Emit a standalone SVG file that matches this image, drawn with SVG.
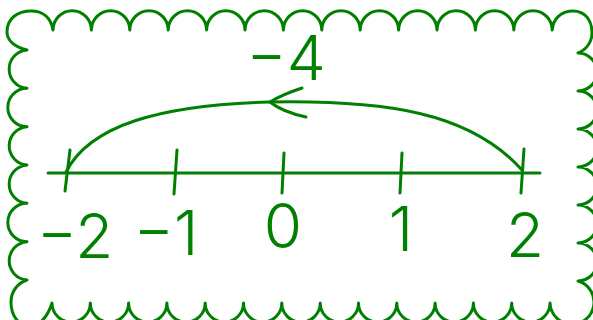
<svg xmlns="http://www.w3.org/2000/svg" width="593" height="320" viewBox="0 0 593 320">
<style>
.ink{fill:none;stroke:#008000;stroke-width:3;stroke-linecap:round;stroke-linejoin:round}
.lbl{fill:#008000;font-family:Inter,"Noto Sans","DejaVu Sans",sans-serif;font-weight:300;font-size:62px;text-anchor:middle}
</style>
<rect width="593" height="320" fill="#ffffff"/>
<g id="border">
<path class="ink" d="M27,50 C14,47 7,40 7,32 C7,18 18,11 31,11 C43,11 51,18 53,30
A19.2 19.2 0 0 1 91.4,30 A19.2 19.2 0 0 1 129.8,30 A19.2 19.2 0 0 1 168.2,30 A19.2 19.2 0 0 1 206.6,30 A19.2 19.2 0 0 1 245,30 A19.2 19.2 0 0 1 283.4,30 A19.2 19.2 0 0 1 321.8,30 A19.2 19.2 0 0 1 360.2,30 A19.2 19.2 0 0 1 398.6,30 A19.2 19.2 0 0 1 437,30 A19.2 19.2 0 0 1 475.4,30 A19.2 19.2 0 0 1 513.8,30 A19.2 19.2 0 0 1 552.2,30
C553,19 561,11 573,11 C585,11 592,20 592,33 C592,42 586,50 578,53
A19 19 0 0 1 578,91 A19 19 0 0 1 578,129 A19 19 0 0 1 578,167 A19 19 0 0 1 578,205 A19 19 0 0 1 578,243 A19 19 0 0 1 578,281
A22 22 0 1 1 550,303
A19.15 19.15 0 0 1 511.7,303 A19.15 19.15 0 0 1 473.4,303 A19.15 19.15 0 0 1 435.1,303 A19.15 19.15 0 0 1 396.8,303 A19.15 19.15 0 0 1 358.5,303 A19.15 19.15 0 0 1 320.2,303 A19.15 19.15 0 0 1 281.8,303 A19.15 19.15 0 0 1 243.5,303 A19.15 19.15 0 0 1 205.2,303 A19.15 19.15 0 0 1 166.9,303 A19.15 19.15 0 0 1 128.6,303 A19.15 19.15 0 0 1 90.3,303 A19.15 19.15 0 0 1 52,303
C48,316 40,326 30,326 C18,326 11,315 11,302 C11,291 18,283 27,280
A19.2 19.2 0 0 1 27,241.7 A19.2 19.2 0 0 1 27,203.3 A19.2 19.2 0 0 1 27,165 A19.2 19.2 0 0 1 27,126.7 A19.2 19.2 0 0 1 27,88.3 A19.2 19.2 0 0 1 27,50"/>
</g>
<g id="number-line">
<line class="ink" x1="48" y1="173" x2="540" y2="173"/>
<line class="ink" x1="70" y1="150" x2="65" y2="191"/>
<line class="ink" x1="177" y1="150" x2="174" y2="194"/>
<line class="ink" x1="284" y1="153" x2="282" y2="193"/>
<line class="ink" x1="402" y1="153" x2="400" y2="193"/>
<line class="ink" x1="524" y1="149" x2="521" y2="193"/>
</g>
<g id="connectors">
<path class="ink" d="M66,172 C90,125 160,105 270,102 C385,100 470,112 522,170"/>
<path class="ink" d="M302,88 C290,92 278,97 270,102 C280,110 292,114 306,117"/>
</g>
<g id="labels">
<text class="lbl" x="75" y="258">−2</text>
<text class="lbl" x="166" y="255">−1</text>
<text class="lbl" x="283" y="248">0</text>
<text class="lbl" x="401" y="251">1</text>
<text class="lbl" x="525" y="257">2</text>
<text class="lbl" x="286" y="80">−4</text>
</g>
</svg>
